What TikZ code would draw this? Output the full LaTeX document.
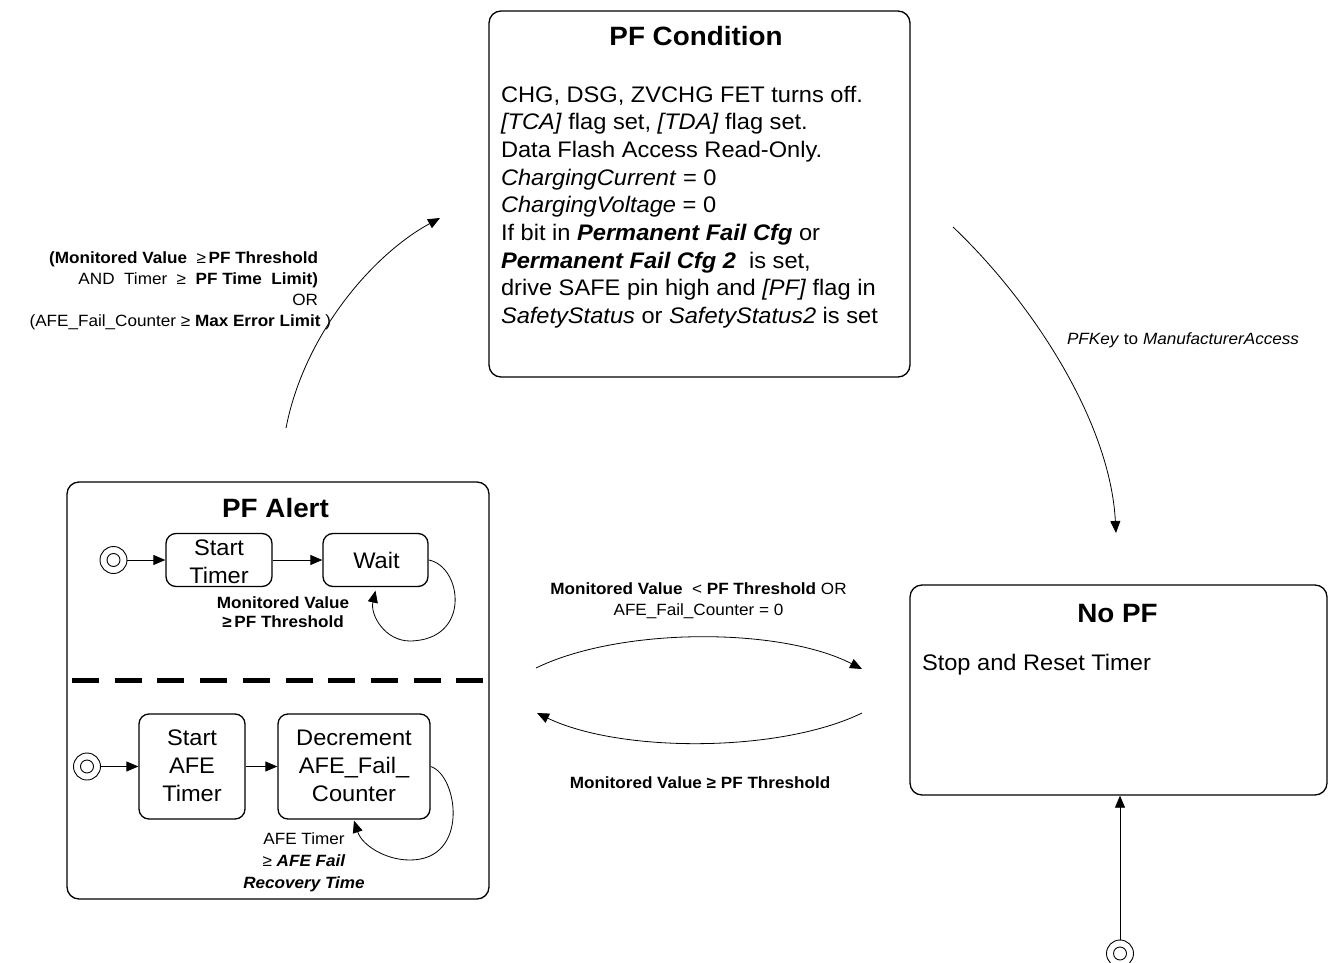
\documentclass[tikz,border=0pt]{standalone}
\usepackage{fontspec}
\setmainfont{Liberation Sans}[FakeStretch=1.05]
\usetikzlibrary{arrows.meta}
\newcommand\myfs[2]{\fontsize{#1pt}{#2pt}\selectfont}
\begin{document}
\begin{tikzpicture}[x=1pt,y=-1pt,
  bigbox/.style={draw, line width=1.3pt, rounded corners=12pt, inner sep=0pt},
  smallbox/.style={draw, line width=1.3pt, rounded corners=10pt, inner sep=0pt},
  conn/.style={line width=0.8pt, -{Triangle[length=12pt,width=10pt]}},
  txt/.style={inner sep=0pt, outer sep=0pt},
  title/.style={txt, font=\myfs{26.5}{30}\bfseries},
  body/.style={txt, font=\myfs{22.5}{27.7}},
  lbl/.style={txt, font=\myfs{16.3}{21}},
  initst/.style={circle, draw, line width=0.9pt, minimum size=27pt, inner sep=0pt}
]
\useasboundingbox (0,0) rectangle (1328,963);

% ---- PF Condition
\node[bigbox, minimum width=421pt, minimum height=366pt] (cond) at (699.5,194) {};
\node[title, anchor=base] (condT) at (696,46) {PF Condition};
\node[body, anchor=base west, align=left] (condB) at (501,323.6) {CHG, DSG, ZVCHG FET turns off.\\
\textit{[TCA]} flag set, \textit{[TDA]} flag set.\\
Data Flash Access Read-Only.\\
\textit{ChargingCurrent} = 0\\
\textit{ChargingVoltage} = 0\\
If bit in \textbf{\textit{Permanent Fail Cfg}} or\\
\textbf{\textit{Permanent Fail Cfg 2}}\ \ is set,\\
drive SAFE pin high and \textit{[PF]} flag in\\
\textit{SafetyStatus} or \textit{SafetyStatus2} is set};

% ---- PF Alert
\node[bigbox, minimum width=422pt, minimum height=417pt] (alert) at (278,690.5) {};
\node[title, anchor=base] (alertT) at (275.5,517) {PF Alert};
\node[initst] (i1) at (113.5,560) {};
\draw[line width=0.9pt] (i1.center) circle[radius=6.5pt];
\node[smallbox, minimum width=106pt, minimum height=53pt] (st) at (219,560) {};
\node[body, align=center, anchor=base] (stT) at (219,583) {Start\\Timer};
\node[smallbox, minimum width=105pt, minimum height=53pt] (wait) at (375.5,560) {};
\node[body, anchor=base] (waitT) at (376.5,568) {Wait};
\draw[conn] (i1) -- (st);
\draw[conn] (st) -- (wait);
\draw[conn] (wait.east) .. controls (462,566) and (472,640) .. (410,641)
   .. controls (385,641) and (370,615) .. ([yshift=-3.5pt]wait.south);
\node[lbl, align=center, anchor=base, font=\myfs{16.3}{19.5}\bfseries] (waitL) at (283,627.5) {Monitored Value\\ ≥\,PF Threshold};

\draw[line width=5pt, dash pattern=on 27pt off 15.7pt] (72,680.5) -- (484,680.5);

\node[initst] (i2) at (87,766.5) {};
\draw[line width=0.9pt] (i2.center) circle[radius=6.5pt];
\node[smallbox, minimum width=106pt, minimum height=105pt] (safe) at (192,766.5) {};
\node[body, align=center, anchor=base] (safeT) at (192,801) {Start\\AFE\\Timer};
\node[smallbox, minimum width=152pt, minimum height=105pt] (dec) at (354,766.5) {};
\node[body, align=center, anchor=base] (decT) at (354,801) {Decrement\\AFE\_Fail\_\\Counter};
\draw[conn] (i2) -- (safe);
\draw[conn] (safe) -- (dec);
\draw[conn] (dec.east) .. controls (458,775) and (470,860) .. (410,860)
   .. controls (385,860) and (362,845) .. ([yshift=-1pt]dec.south);
\node[lbl, align=center, anchor=base, font=\myfs{16.3}{22}] (decL) at (304,888) {AFE Timer\\ ≥ \textbf{\textit{AFE Fail}}\\ \textbf{\textit{Recovery Time}}};

% ---- No PF
\node[bigbox, minimum width=417pt, minimum height=210pt] (nopf) at (1118.5,690) {};
\node[title, anchor=base] (nopfT) at (1117.5,622) {No PF};
\node[body, anchor=base west] (nopfB) at (922,670) {Stop and Reset Timer};
\node[initst] (i3) at (1120,953.5) {};
\draw[line width=0.9pt] (i3.center) circle[radius=6.5pt];
\draw[conn] (i3) -- (i3 |- nopf.south);

% ---- transitions
\coordinate (a1s) at (286,428);
\coordinate (a1e) at (440,218);
\draw[conn] (a1s) .. controls (304,335) and (372,255) .. (a1e);
\node[lbl, align=right, anchor=base east] (a1L) at (318,326) {\textbf{(Monitored Value}~~≥\,\textbf{PF Threshold}\\
AND~~Timer~~≥~~\textbf{PF Time~~Limit)}\\
OR\\
(AFE\_Fail\_Counter ≥ \textbf{Max Error Limit} )\hspace*{-13pt}};

\coordinate (a2s) at (953,227);
\coordinate (a2e) at (1116,533);
\draw[conn] (a2s) .. controls (1030,300) and (1110,420) .. (a2e);
\node[lbl, anchor=base] (a2L) at (1183,344) {\textit{PFKey} to \textit{ManufacturerAccess}};

\coordinate (a3s) at (536,668);
\coordinate (a3e) at (862,669);
\draw[conn] (a3s) .. controls (620,627) and (780,627) .. (a3e);
\node[lbl, align=center, anchor=base] (a3L) at (698.5,615) {\textbf{Monitored Value}~~<~\textbf{PF Threshold} OR\\ AFE\_Fail\_Counter = 0};

\coordinate (a4s) at (862,713);
\coordinate (a4e) at (537,713);
\draw[conn] (a4s) .. controls (780,753) and (620,753) .. (a4e);
\node[lbl, anchor=base, font=\myfs{16.3}{21}\bfseries] (a4L) at (700,788) {Monitored Value ≥ PF Threshold};
\end{tikzpicture}
\end{document}
